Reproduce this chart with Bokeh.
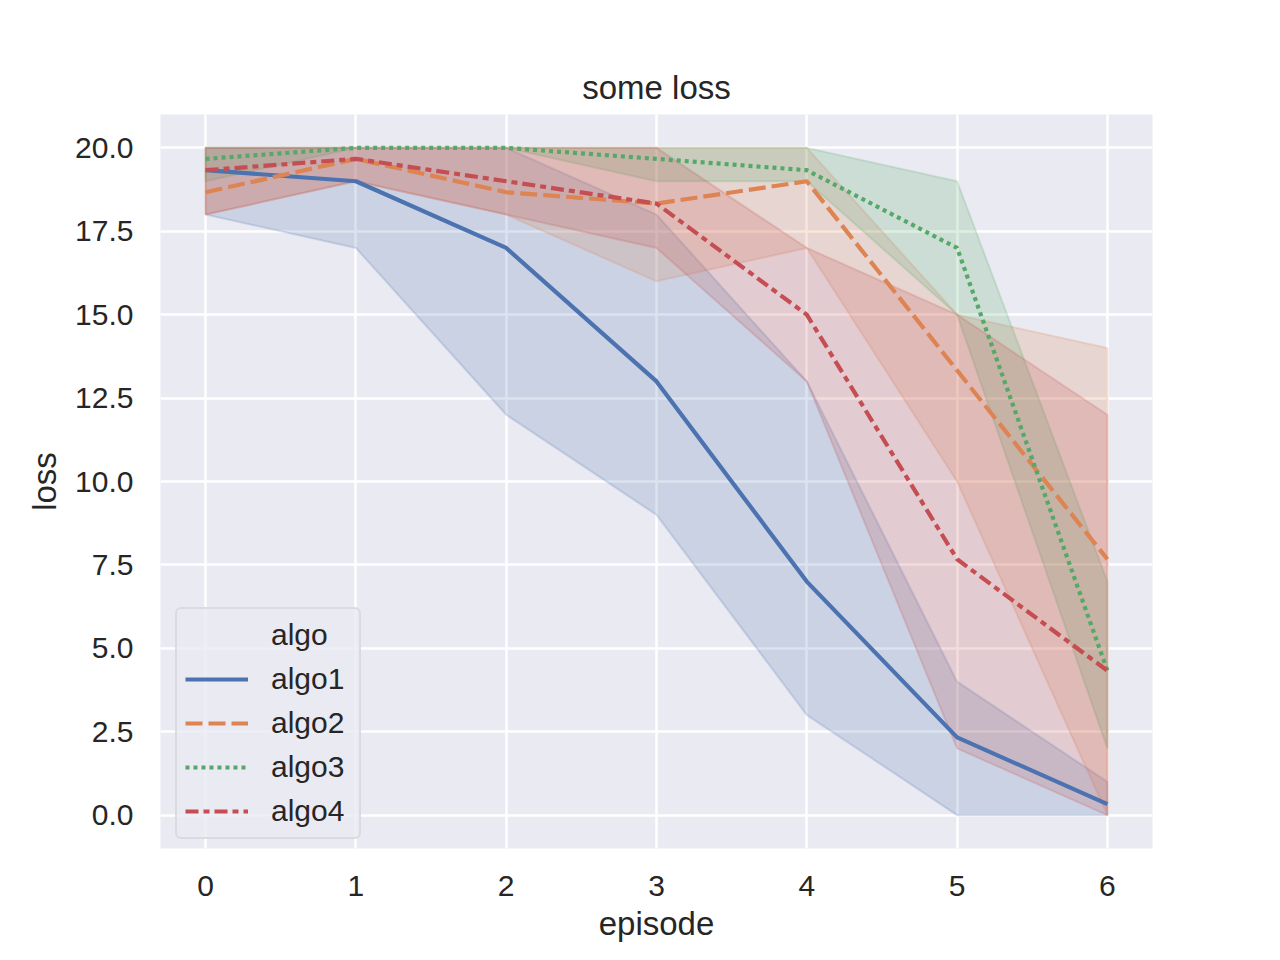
from bokeh.plotting import figure
from bokeh.models import FixedTicker, PrintfTickFormatter, Legend, LegendItem, Range1d
from bokeh.embed import file_html
from bokeh.resources import INLINE

episodes = [0, 1, 2, 3, 4, 5, 6]
series_names = ["algo1", "algo2", "algo3", "algo4"]
algo1_mean = [19.33, 19.0, 17.0, 13.0, 7.0, 2.33, 0.33]
algo1_lo = [18, 17, 12, 9, 3, 0, 0]
algo1_hi = [20, 20, 20, 18, 13, 4, 1]
algo2_mean = [18.67, 19.67, 18.67, 18.33, 19.0, 13.33, 7.67]
algo2_lo = [18, 19, 18, 16, 17, 10, 0]
algo2_hi = [20, 20, 20, 20, 20, 15, 14]
algo3_mean = [19.67, 20.0, 20.0, 19.67, 19.33, 17.0, 4.33]
algo3_lo = [19, 20, 20, 19, 19, 15, 2]
algo3_hi = [20, 20, 20, 20, 20, 19, 7]
algo4_mean = [19.33, 19.67, 19.0, 18.33, 15.0, 7.67, 4.33]
algo4_lo = [18, 19, 18, 17, 13, 2, 0]
algo4_hi = [20, 20, 20, 20, 17, 15, 12]
y_ticks = [0, 2.5, 5, 7.5, 10, 12.5, 15, 17.5, 20]
x_ticks = [0, 1, 2, 3, 4, 5, 6]

colors = ["#4C72B0", "#DD8452", "#55A868", "#C44E52"]
dashes = ["solid", "17 6", "4 4", "13 5 6 5"]
means = [algo1_mean, algo2_mean, algo3_mean, algo4_mean]
los = [algo1_lo, algo2_lo, algo3_lo, algo4_lo]
his = [algo1_hi, algo2_hi, algo3_hi, algo4_hi]

FONT = "Liberation Sans"
TXT = "#262626"

p = figure(width=1264, height=944, output_backend="svg", toolbar_location=None,
           x_range=Range1d(-0.3, 6.3), y_range=Range1d(-1, 21),
           min_border_left=160, min_border_right=112, min_border_top=114, min_border_bottom=96,
           title="some loss")
p.background_fill_color = "#EAEAF2"
p.border_fill_color = "white"
p.outline_line_color = None

p.title.text_font = FONT
p.title.text_font_size = "33px"
p.title.text_font_style = "normal"
p.title.text_color = TXT
p.title.align = "center"
p.title.standoff = 17

for ax in (p.xaxis, p.yaxis):
    ax.axis_line_color = None
    ax.major_tick_line_color = None
    ax.minor_tick_line_color = None
    ax.major_label_text_font = FONT
    ax.major_label_text_font_size = "30px"
    ax.major_label_text_color = TXT
    ax.axis_label_text_font = FONT
    ax.axis_label_text_font_size = "33px"
    ax.axis_label_text_font_style = "normal"
    ax.axis_label_text_color = TXT

p.xaxis.ticker = FixedTicker(ticks=x_ticks)
p.yaxis.ticker = FixedTicker(ticks=y_ticks)
p.yaxis.formatter = PrintfTickFormatter(format="%.1f")
p.xaxis.axis_label = "episode"
p.yaxis.axis_label = "loss"
p.xaxis.major_label_standoff = 21
p.yaxis.major_label_standoff = 21
p.xaxis.axis_label_standoff = 6
p.yaxis.axis_label_standoff = 9

p.xgrid.ticker = FixedTicker(ticks=x_ticks)
p.ygrid.ticker = FixedTicker(ticks=y_ticks)
p.grid.grid_line_color = "white"
p.grid.grid_line_width = 2.5

for c, lo, hi in zip(colors, los, his):
    xs = episodes + episodes[::-1]
    ys = list(lo) + list(hi)[::-1]
    p.patch(xs, ys, fill_color=c, fill_alpha=0.2, line_color=c, line_alpha=0.2, line_width=2)

renderers = []
for c, d, m in zip(colors, dashes, means):
    r = p.line(episodes, m, line_color=c, line_width=4.2, line_dash=d)
    renderers.append(r)

dummy = p.line([], [], line_alpha=0)
items = [LegendItem(label="algo", renderers=[dummy])]
for name, r in zip(series_names, renderers):
    items.append(LegendItem(label=name, renderers=[r]))

legend = Legend(items=items, location=(15, 9))
legend.margin = 0
legend.padding = 8
legend.spacing = 8
legend.glyph_width = 63
legend.glyph_height = 36
legend.label_height = 36
legend.label_width = 80
legend.label_standoff = 23
legend.label_text_font = FONT
legend.label_text_font_size = "30px"
legend.label_text_color = TXT
legend.background_fill_color = "#EAEAF2"
legend.background_fill_alpha = 0.8
legend.border_line_color = "#CCCCCC"
legend.border_line_width = 2
legend.border_radius = 6
p.add_layout(legend, "center")

open("out.html", "w").write(file_html(p, INLINE))
